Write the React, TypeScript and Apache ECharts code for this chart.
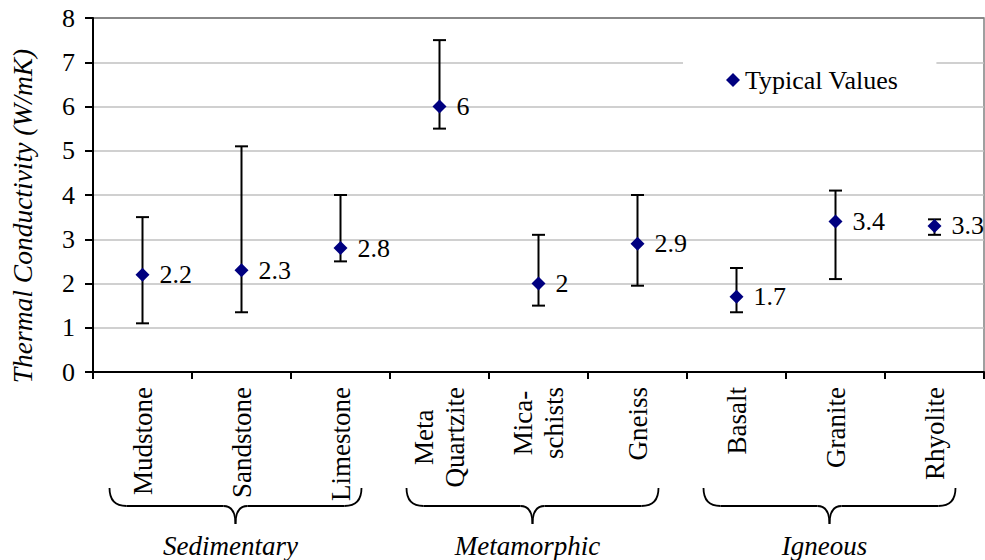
import React, { useEffect, useRef } from "react";
import * as echarts from "echarts";

// Rock types along the category axis (line breaks are drawn as two-line labels)
const rockTypes = [
  "Mudstone",
  "Sandstone",
  "Limestone",
  "Meta\nQuartzite",
  "Mica-\nschists",
  "Gneiss",
  "Basalt",
  "Granite",
  "Rhyolite",
];

// Typical thermal conductivity (W/mK) per rock type
const typicalValues = [2.2, 2.3, 2.8, 6, 2, 2.9, 1.7, 3.4, 3.3];

// Lower and upper ends of the reported range per rock type
const rangeLow = [1.1, 1.35, 2.5, 5.5, 1.5, 1.95, 1.35, 2.1, 3.1];
const rangeHigh = [3.5, 5.1, 4.0, 7.5, 3.1, 4.0, 2.35, 4.1, 3.45];

// Value axis
const yMin = 0;
const yMax = 8;
const yStep = 1;

// Rock families, each spanning a run of categories
const groupNames = ["Sedimentary", "Metamorphic", "Igneous"];
const groupFirst = [0, 3, 6];
const groupLast = [2, 5, 8];

const SERIF = "'Liberation Serif', 'Times New Roman', serif";

export default function App() {
  const ref = useRef<HTMLDivElement>(null);

  useEffect(() => {
    if (!ref.current) return;
    const chart = echarts.init(ref.current, undefined, { renderer: "svg" });

    const gridColors: string[] = [];
    for (let v = yMin; v <= yMax; v += yStep) {
      gridColors.push(v === yMax ? "#808080" : "#c0c0c0");
    }

    chart.setOption({
      animation: false,
      backgroundColor: "#ffffff",
      textStyle: { fontFamily: SERIF, color: "#000" },
      grid: {
        left: 93,
        right: 1,
        top: 18,
        bottom: 188,
        show: true,
        borderColor: "#808080",
        borderWidth: 1.5,
        backgroundColor: "transparent",
      },
      legend: {
        data: ["Typical Values"],
        left: 683,
        top: 59,
        padding: [8, 38, 8, 43],
        backgroundColor: "#ffffff",
        icon: "diamond",
        itemWidth: 14,
        itemHeight: 14,
        textStyle: { fontFamily: SERIF, fontSize: 26, color: "#000" },
      },
      xAxis: {
        type: "category",
        data: rockTypes,
        boundaryGap: true,
        axisLine: { lineStyle: { color: "#000", width: 2 } },
        axisTick: { show: true, length: 7, lineStyle: { color: "#000", width: 2 } },
        splitLine: { show: false },
        axisLabel: {
          rotate: 90,
          margin: 15,
          interval: 0,
          color: "#000",
          fontFamily: SERIF,
          fontSize: 27,
          formatter: (v: string) =>
            v
              .split("\n")
              .map((l) => `{c|${l}}`)
              .join("\n"),
          rich: {
            c: {
              align: "center",
              fontFamily: SERIF,
              fontSize: 27,
              lineHeight: 31,
              color: "#000",
            },
          },
        },
      },
      yAxis: {
        type: "value",
        min: yMin,
        max: yMax,
        interval: yStep,
        axisLine: { show: true, lineStyle: { color: "#000", width: 2 } },
        axisTick: { show: true, length: 8, lineStyle: { color: "#000", width: 2 } },
        axisLabel: {
          margin: 18,
          color: "#000",
          fontFamily: SERIF,
          fontSize: 26,
        },
        splitLine: { show: true, lineStyle: { color: gridColors, width: 1.5 } },
      },
      series: [
        {
          name: "Range",
          type: "custom",
          z: 1,
          data: rockTypes.map((_, i) => [i, rangeLow[i], rangeHigh[i]]),
          encode: { x: 0, y: [1, 2] },
          renderItem: (_params: any, api: any) => {
            const i = api.value(0);
            const lo = api.coord([i, api.value(1)]);
            const hi = api.coord([i, api.value(2)]);
            const cap = 6.5;
            const style = { stroke: "#000", lineWidth: 2 };
            return {
              type: "group",
              children: [
                { type: "line", shape: { x1: lo[0], y1: lo[1], x2: hi[0], y2: hi[1] }, style },
                { type: "line", shape: { x1: hi[0] - cap, y1: hi[1], x2: hi[0] + cap, y2: hi[1] }, style },
                { type: "line", shape: { x1: lo[0] - cap, y1: lo[1], x2: lo[0] + cap, y2: lo[1] }, style },
              ],
            };
          },
        },
        {
          name: "Typical Values",
          type: "scatter",
          z: 3,
          data: typicalValues,
          symbol: "diamond",
          symbolSize: 14,
          itemStyle: { color: "#000080", opacity: 1 },
          label: {
            show: true,
            position: "right",
            distance: 10,
            color: "#000",
            opacity: 1,
            fontFamily: SERIF,
            fontSize: 26,
            formatter: (p: any) => String(p.value),
          },
        },
      ],
    });

    // Braces and family names beneath the category labels
    const graphics: any[] = [];
    const yTop = 488;
    const yMid = 506;
    const yTip = 524;
    const r = 17;
    const r2 = 12;
    const stroke = { stroke: "#000", lineWidth: 1.8, fill: null };
    groupNames.forEach((name, g) => {
      const xa = chart.convertToPixel({ xAxisIndex: 0 }, groupFirst[g]) as number;
      const xb = chart.convertToPixel({ xAxisIndex: 0 }, groupLast[g]) as number;
      const cx = (xa + xb) / 2 - 6;
      const half = (xb - xa) / 2 + 27;
      const L = cx - half;
      const R = cx + half;
      graphics.push(
        { type: "bezierCurve", shape: { x1: L, y1: yTop, cpx1: L, cpy1: yMid, x2: L + r, y2: yMid }, style: stroke },
        { type: "line", shape: { x1: L + r, y1: yMid, x2: cx - r2, y2: yMid }, style: stroke },
        { type: "bezierCurve", shape: { x1: cx - r2, y1: yMid, cpx1: cx, cpy1: yMid, x2: cx, y2: yTip }, style: stroke },
        { type: "bezierCurve", shape: { x1: cx, y1: yTip, cpx1: cx, cpy1: yMid, x2: cx + r2, y2: yMid }, style: stroke },
        { type: "line", shape: { x1: cx + r2, y1: yMid, x2: R - r, y2: yMid }, style: stroke },
        { type: "bezierCurve", shape: { x1: R - r, y1: yMid, cpx1: R, cpy1: yMid, x2: R, y2: yTop }, style: stroke },
        {
          type: "text",
          x: cx - 5,
          y: 546,
          style: {
            text: name,
            fill: "#000",
            font: `italic 27px ${SERIF}`,
            align: "center",
            verticalAlign: "middle",
          },
        }
      );
    });

    // Value axis title
    graphics.push({
      type: "text",
      x: 22,
      y: 216,
      rotation: Math.PI / 2,
      style: {
        text: "Thermal Conductivity (W/mK)",
        fill: "#000",
        font: `italic 27.5px ${SERIF}`,
        align: "center",
        verticalAlign: "middle",
      },
    });

    chart.setOption({ graphic: graphics });

    return () => chart.dispose();
  }, []);

  return (
    <div
      ref={ref}
      style={{ position: "fixed", left: 0, top: 0, width: 985, height: 560, background: "#fff" }}
    />
  );
}
